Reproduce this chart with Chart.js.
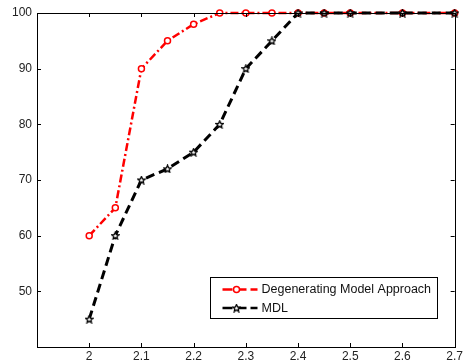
<!DOCTYPE html>
<html>
<head>
<meta charset="utf-8">
<script src="https://cdn.jsdelivr.net/npm/chart.js@4/dist/chart.umd.min.js"></script>
<style>
  html, body { margin: 0; padding: 0; background: #fff; }
  #wrap { width: 465px; height: 362px; }
</style>
</head>
<body>
<div id="wrap"><canvas id="plot" width="465" height="362"></canvas></div>
<script>
// data
var xValues = [2, 2.05, 2.1, 2.15, 2.2, 2.25, 2.3, 2.35, 2.4, 2.45, 2.5, 2.6, 2.7];
var dmaValues = [60, 65, 90, 95, 98, 100, 100, 100, 100, 100, 100, 100, 100];
var mdlValues = [45, 60, 70, 72, 75, 80, 90, 95, 100, 100, 100, 100, 100];
var seriesNames = ["Degenerating Model Approach", "MDL"];
var xTicks = [2, 2.1, 2.2, 2.3, 2.4, 2.5, 2.6, 2.7];
var yTicks = [50, 60, 70, 80, 90, 100];

function pairs(xs, ys) {
  return xs.map(function (x, i) { return { x: x, y: ys[i] }; });
}

// small pentagram marker like matlab 'p'
function starMarker() {
  var c = document.createElement('canvas');
  c.width = 9; c.height = 9;
  var g = c.getContext('2d');
  g.beginPath();
  for (var i = 0; i < 10; i++) {
    var r = i % 2 === 0 ? 3.8 : 1.8;
    var a = -Math.PI / 2 + i * Math.PI / 5;
    var px = 4.5 + r * Math.cos(a), py = 4.8 + r * Math.sin(a);
    if (i === 0) g.moveTo(px, py); else g.lineTo(px, py);
  }
  g.closePath();
  g.fillStyle = '#fff';
  g.fill();
  g.lineWidth = 1.3;
  g.strokeStyle = '#000';
  g.stroke();
  return c;
}
var star = starMarker();

var FONT = 'Liberation Sans, Arial, sans-serif';

var frame = {
  id: 'frame',
  afterDraw: function (chart) {
    var ctx = chart.ctx, ca = chart.chartArea;
    var xs = chart.scales.x, ys = chart.scales.y;
    ctx.save();
    ctx.strokeStyle = '#000';
    ctx.lineWidth = 1;
    ctx.strokeRect(Math.round(ca.left) + 0.5, Math.round(ca.top) + 0.5,
      Math.round(ca.right - ca.left), Math.round(ca.bottom - ca.top));
    // inward ticks on all four sides
    ctx.beginPath();
    xTicks.concat([1.9]).forEach(function (v) {
      var px = Math.round(xs.getPixelForValue(v)) + 0.5;
      ctx.moveTo(px, ca.bottom); ctx.lineTo(px, ca.bottom - 4);
      ctx.moveTo(px, ca.top); ctx.lineTo(px, ca.top + 4);
    });
    yTicks.concat([40]).forEach(function (v) {
      var py = Math.round(ys.getPixelForValue(v)) + 0.5;
      ctx.moveTo(ca.left, py); ctx.lineTo(ca.left + 4, py);
      ctx.moveTo(ca.right, py); ctx.lineTo(ca.right - 4, py);
    });
    ctx.stroke();

    // legend box inside the axes
    var w = 227, h = 41;
    var lx = Math.round(ca.right - 18 - w) + 0.5, ly = Math.round(ca.bottom - 29 - h) + 0.5;
    ctx.fillStyle = '#fff';
    ctx.fillRect(lx, ly, w, h);
    ctx.strokeRect(lx, ly, w, h);
    chart.data.datasets.forEach(function (ds, k) {
      var rowY = ly + 12 + k * 18.5;
      ctx.save();
      ctx.strokeStyle = ds.borderColor;
      ctx.lineWidth = 2.5;
      ctx.setLineDash([10, 4]);
      ctx.beginPath();
      ctx.moveTo(lx + 12, rowY); ctx.lineTo(lx + 47, rowY);
      ctx.stroke();
      ctx.setLineDash([]);
      if (ds.pointStyle === 'circle') {
        ctx.fillStyle = '#fff';
        ctx.lineWidth = 1.5;
        ctx.beginPath();
        ctx.arc(lx + 26, rowY, 3, 0, Math.PI * 2);
        ctx.fill(); ctx.stroke();
      } else {
        ctx.drawImage(star, lx + 26 - 4.5, rowY - 4.5);
      }
      ctx.restore();
      ctx.fillStyle = '#111';
      ctx.font = '12.5px ' + FONT;
      ctx.textBaseline = 'middle';
      ctx.fillText(ds.label, lx + 51, rowY + 0.5);
    });
    ctx.restore();
  }
};

new Chart(document.getElementById('plot'), {
  type: 'line',
  data: {
    datasets: [
      {
        label: seriesNames[0],
        data: pairs(xValues, dmaValues),
        borderColor: '#ff0000',
        backgroundColor: '#fff',
        borderWidth: 2.5,
        borderDash: [8, 3, 2, 3],
        pointStyle: 'circle',
        pointRadius: 3,
        pointBorderWidth: 1.5,
        pointBackgroundColor: '#fff',
        pointBorderColor: '#ff0000',
        tension: 0,
        clip: false,
        order: 1
      },
      {
        label: seriesNames[1],
        data: pairs(xValues, mdlValues),
        borderColor: '#000',
        backgroundColor: '#fff',
        borderWidth: 3,
        borderDash: [9, 5],
        pointStyle: star,
        pointRadius: 3.5,
        tension: 0,
        clip: false,
        order: 0
      }
    ]
  },
  options: {
    responsive: false,
    animation: false,
    events: [],
    layout: { padding: { top: 13, right: 6, left: 0, bottom: 0 } },
    plugins: {
      legend: { display: false },
      tooltip: { enabled: false }
    },
    scales: {
      x: {
        type: 'linear',
        min: 1.9,
        max: 2.7,
        afterBuildTicks: function (scale) {
          scale.ticks = xTicks.map(function (v) { return { value: v }; });
        },
        afterFit: function (scale) { scale.height = 15; },
        grid: { display: false, drawTicks: false },
        border: { display: false },
        ticks: {
          padding: 2,
          maxRotation: 0,
          autoSkip: false,
          color: '#222',
          font: { family: FONT, size: 12 },
          callback: function (v) { return String(Math.round(v * 10) / 10); }
        }
      },
      y: {
        min: 40,
        max: 100,
        afterBuildTicks: function (scale) {
          scale.ticks = yTicks.map(function (v) { return { value: v }; });
        },
        afterFit: function (scale) { scale.width = 37; },
        grid: { display: false, drawTicks: false },
        border: { display: false },
        ticks: {
          padding: 5,
          color: '#222',
          font: { family: FONT, size: 12 }
        }
      }
    }
  },
  plugins: [frame]
});
</script>
</body>
</html>
